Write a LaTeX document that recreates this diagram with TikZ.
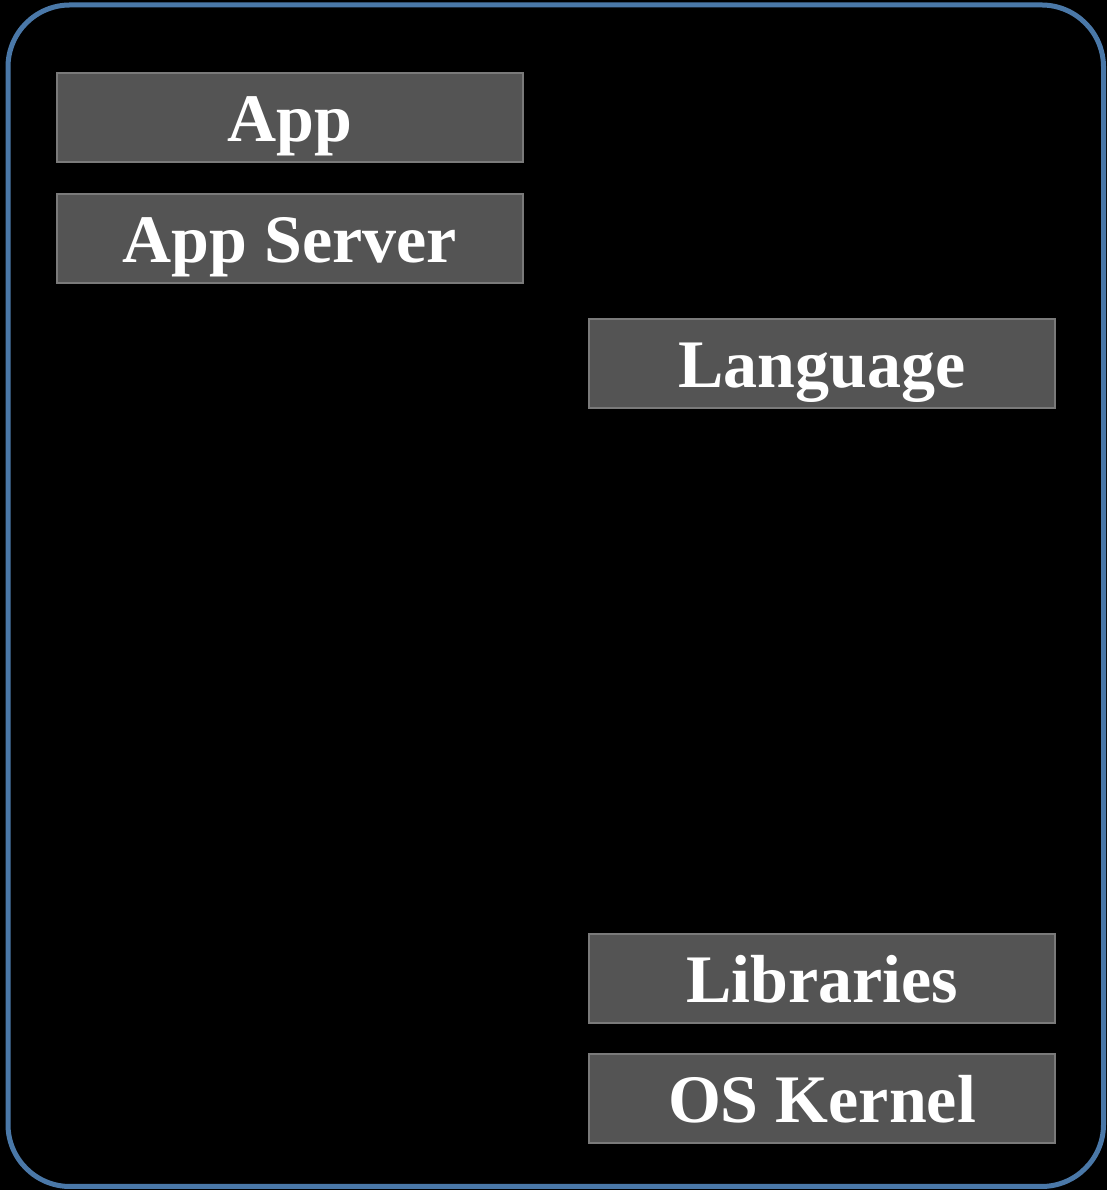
\documentclass[tikz,border=0pt]{standalone}
\usepackage{fontspec}
\setmainfont{Liberation Serif}
\begin{document}
\begin{tikzpicture}[x=1pt,y=1pt,
  layer/.style={draw=boxline,line width=2pt,fill=boxfill,minimum width=466pt,minimum height=89pt,
    inner sep=0pt,text height=60pt,text depth=11pt,text=white,font=\fontsize{68}{72}\selectfont\bfseries}]
\definecolor{boxfill}{HTML}{545454}
\definecolor{boxline}{HTML}{7A7A7A}
\definecolor{frameblue}{HTML}{4A78A8}
\fill[black] (0,0) rectangle (1107,1190);
\useasboundingbox (0,0) rectangle (1107,1190);
\draw[frameblue,line width=5pt,rounded corners=62pt] (8,3.5) rectangle (1103.5,1185);
\node[layer] (app) at (290,1072.5) {App};
\node[layer] (appserver) at (290,951.5) {App Server};
\node[layer] (lang) at (822,826.5) {Language};
\node[layer] (libs) at (822,211.5) {Libraries};
\node[layer] (kernel) at (822,91.5) {OS Kernel};
\end{tikzpicture}
\end{document}
